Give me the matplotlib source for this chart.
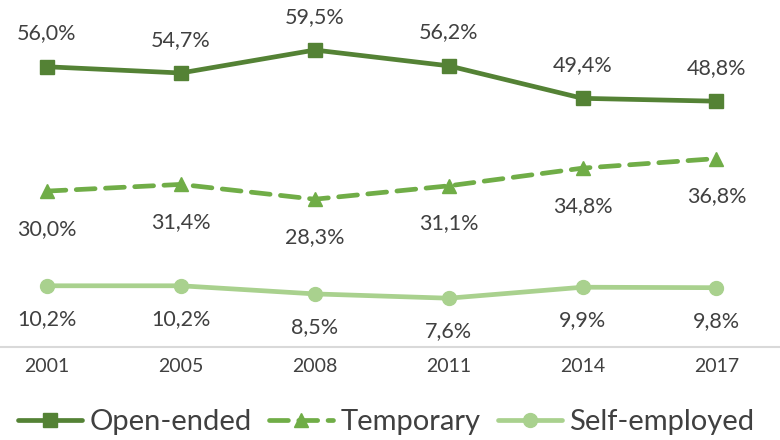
import matplotlib
matplotlib.use("Agg")
import matplotlib.pyplot as plt

# chart data
years = ["2001", "2005", "2008", "2011", "2014", "2017"]
open_ended = [56.0, 54.7, 59.5, 56.2, 49.4, 48.8]
temporary = [30.0, 31.4, 28.3, 31.1, 34.8, 36.8]
self_employed = [10.2, 10.2, 8.5, 7.6, 9.9, 9.8]

plt.rcParams["font.family"] = ["Lato", "DejaVu Sans"]
text_col = "#404040"

fig = plt.figure(figsize=(7.8, 4.4), dpi=100)
ax = fig.add_axes([-0.0256, 0.2114, 1.03, 0.789])

x = range(len(years))
series = [
    ("Open-ended", open_ended, "#548235", "-", "s", 24),
    ("Temporary", temporary, "#70AD47", (0, (4, 2.2)), "^", -27),
    ("Self-employed", self_employed, "#A9D18E", "-", "o", -24),
]

for name, vals, col, ls, mk, off in series:
    ax.plot(x, vals, color=col, lw=3.4, ls=ls, marker=mk, ms=10,
            label=name, solid_capstyle="round", dash_capstyle="round")
    for i, v in enumerate(vals):
        ax.annotate(f"{v:.1f}%".replace(".", ","), (i, v), xytext=(0, off),
                    textcoords="offset points", ha="center", va="center",
                    fontsize=15.5, color=text_col)

ax.set_xlim(-0.5, 5.5)
ax.set_ylim(-2.6, 70)
ax.set_xticks(list(x))
ax.set_xticklabels(years, fontsize=14, color=text_col)
ax.tick_params(axis="x", length=0, pad=8)
ax.set_yticks([])
for s in ["top", "left", "right"]:
    ax.spines[s].set_visible(False)
ax.spines["bottom"].set_color("#D9D9D9")
ax.spines["bottom"].set_linewidth(1.5)

fig.legend(loc="center", bbox_to_anchor=(0.495, 0.04), ncol=3, frameon=False,
           fontsize=21, labelcolor=text_col, handlelength=2.2,
           handletextpad=0.25, columnspacing=0.6)

fig.savefig("out.png", dpi=100)
